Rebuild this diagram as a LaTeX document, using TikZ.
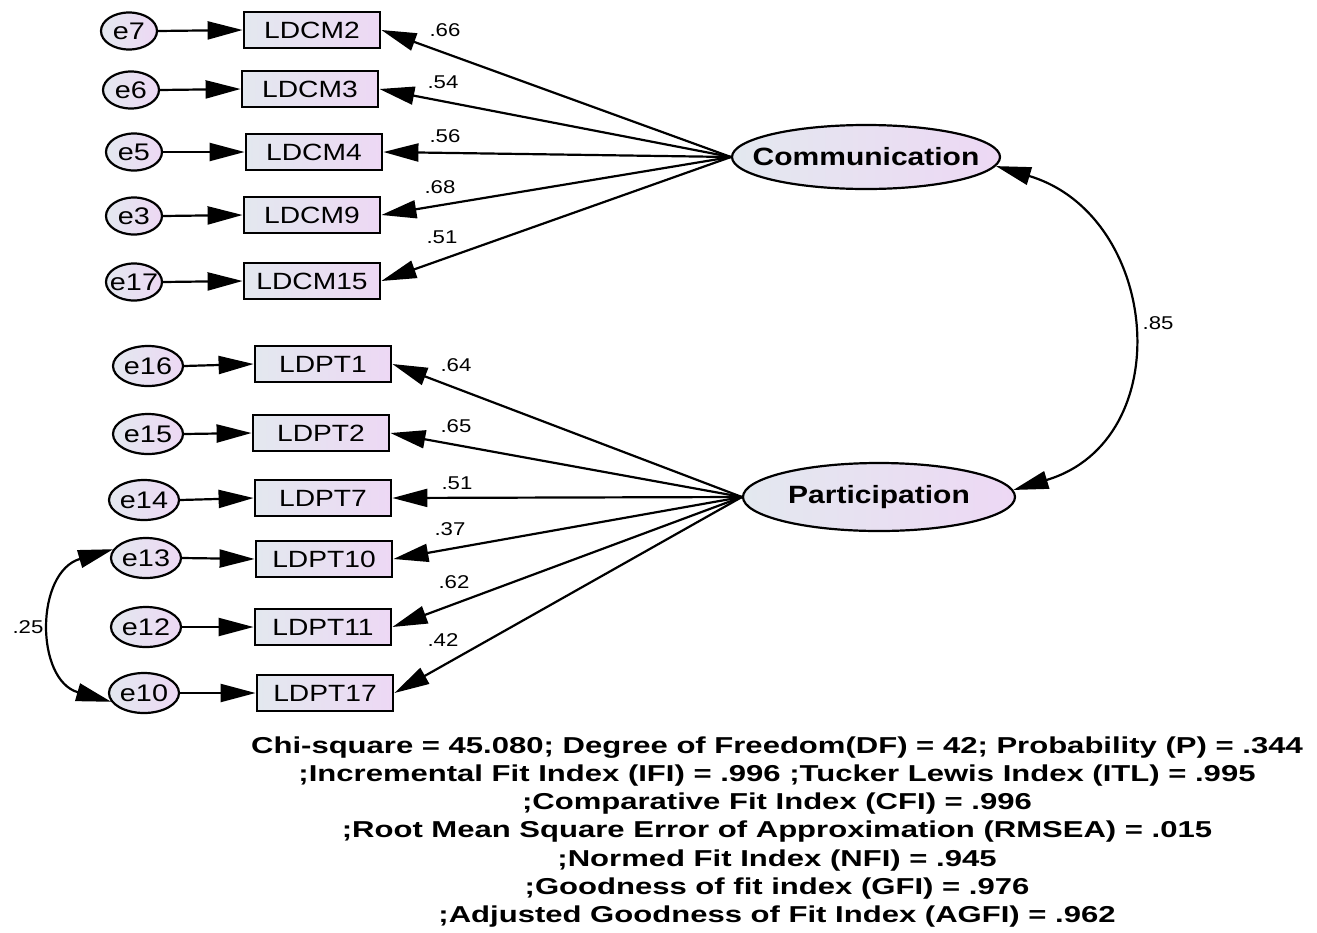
\documentclass[tikz,border=0pt]{standalone}
\usepackage{fontspec}
\setmainfont{Liberation Sans}[FakeStretch=1.2]
\newfontfamily\statfont{Liberation Sans}[FakeStretch=1.35]
\usetikzlibrary{arrows.meta,shapes.geometric}
\definecolor{fillL}{HTML}{E3E8EF}
\definecolor{fillR}{HTML}{EDD8F4}
\begin{document}
\begin{tikzpicture}[x=1pt,y=-1pt,
  obs/.style={rectangle, draw, line width=2.8pt, minimum width=136pt, minimum height=36pt,
    left color=fillL, right color=fillR, inner sep=0pt, font=\fontsize{23.5}{23.5}\selectfont},
  err/.style={ellipse, draw, line width=2.2pt, inner sep=0pt, minimum width=56pt, minimum height=37pt,
    left color=fillL, right color=fillR},
  errw/.style={err, minimum width=70pt, minimum height=40pt},
  etext/.style={inner sep=0pt, font=\fontsize{24}{24}\selectfont},
  lat/.style={ellipse, draw, line width=2.2pt, inner sep=0pt,
    left color=fillL, right color=fillR},
  lattext/.style={inner sep=0pt, font=\bfseries\fontsize{25}{25}\selectfont},
  reg/.style={line width=2.2pt, -{Triangle[length=35pt,width=18pt]}},
  cov/.style={line width=2.2pt, {Triangle[length=35pt,width=18pt]}-{Triangle[length=35pt,width=18pt]}},
  lbl/.style={inner sep=0pt, font=\fontsize{18.5}{18.5}\selectfont}]
\useasboundingbox (0,0) rectangle (1317,932);

% latent variables
\node[lat, minimum width=268pt, minimum height=64pt, label={[lattext]center:Communication}] (comm) at (866,157) {};
\node[lat, minimum width=272pt, minimum height=68pt, label={[lattext]center:Participation}] (part) at (879,497) {};

% Communication indicators
\node[err, label={[etext]center:e7}] (e7) at (129,31) {};
\node[obs] (cm2) at (312,30) {LDCM2};
\node[err, label={[etext]center:e6}] (e6) at (131,90) {};
\node[obs] (cm3) at (310,89) {LDCM3};
\node[err, label={[etext]center:e5}] (e5) at (134,152) {};
\node[obs] (cm4) at (314,152) {LDCM4};
\node[err, label={[etext]center:e3}] (e3) at (134,216) {};
\node[obs] (cm9) at (312,215) {LDCM9};
\node[err, label={[etext]center:e17}] (e17) at (134,282) {};
\node[obs] (cm15) at (312,281) {LDCM15};

% Participation indicators
\node[errw, label={[etext]center:e16}] (e16) at (148,366) {};
\node[obs] (pt1) at (323,364) {LDPT1};
\node[errw, label={[etext]center:e15}] (e15) at (148,434) {};
\node[obs] (pt2) at (321,433) {LDPT2};
\node[errw, label={[etext]center:e14}] (e14) at (144,500) {};
\node[obs] (pt7) at (323,498) {LDPT7};
\node[errw, label={[etext]center:e13}] (e13) at (146,558) {};
\node[obs] (pt10) at (324,559) {LDPT10};
\node[errw, label={[etext]center:e12}] (e12) at (146,627) {};
\node[obs] (pt11) at (323,627) {LDPT11};
\node[errw, label={[etext]center:e10}] (e10) at (144,693) {};
\node[obs] (pt17) at (325,693) {LDPT17};

% error arrows
\foreach \e/\b in {e7/cm2,e6/cm3,e5/cm4,e3/cm9,e17/cm15,e16/pt1,e15/pt2,e14/pt7,e13/pt10,e12/pt11,e10/pt17}
  \draw[reg] (\e.east) -- (\b.west);

% loadings
\foreach \b in {cm2,cm3,cm4,cm9,cm15}
  \draw[reg] (comm.west) -- (\b.east);
\foreach \b in {pt1,pt2,pt7,pt10,pt11,pt17}
  \draw[reg] (part.west) -- (\b.east);

% covariances
\draw[cov] (comm.-4) .. controls (1160,215) and (1180,440) .. (part.3);
\draw[cov] (e13.165) .. controls (35,572) and (35,680) .. (e10.195);

% labels
\node[lbl] (l1) at (445,30) {.66};
\node[lbl] (l2) at (443,82) {.54};
\node[lbl] (l3) at (445,136) {.56};
\node[lbl] (l4) at (440,187) {.68};
\node[lbl] (l5) at (442,237) {.51};
\node[lbl] (l6) at (456,365) {.64};
\node[lbl] (l7) at (456,426) {.65};
\node[lbl] (l8) at (457,483) {.51};
\node[lbl] (l9) at (450,529) {.37};
\node[lbl] (l10) at (454,582) {.62};
\node[lbl] (l11) at (443,640) {.42};
\node[lbl] (l12) at (1158,323) {.85};
\node[lbl] (l13) at (28,627) {.25};

% fit statistics
\node[align=center, inner sep=0pt, font=\statfont\bfseries\fontsize{23}{28.2}\selectfont] (fit) at (777,832) {%
Chi-square = 45.080; Degree of Freedom(DF) = 42; Probability (P) = .344\\
;Incremental Fit Index (IFI) = .996 ;Tucker Lewis Index (ITL) = .995\\
;Comparative Fit Index (CFI) = .996\\
;Root Mean Square Error of Approximation (RMSEA) = .015\\
;Normed Fit Index (NFI) = .945\\
;Goodness of fit index (GFI) = .976\\
;Adjusted Goodness of Fit Index (AGFI) = .962};
\end{tikzpicture}
\end{document}
